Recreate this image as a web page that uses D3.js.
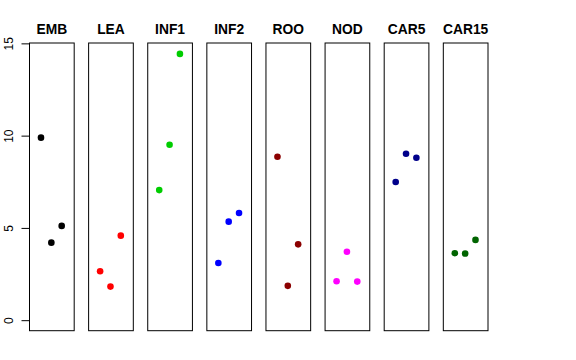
<!DOCTYPE html>
<html lang="en">
<head>
  <meta charset="UTF-8" />
  <title>Panels</title>
  <style>
    body { margin: 0; background: #fff; }
    svg { display: block; font-family: 'Liberation Sans', Arial, sans-serif; }
    .panel { fill: none; stroke: #000; stroke-width: 1px; }
    .title { font-weight: bold; font-size: 13.8px; text-anchor: middle; }
    .axis text { font-size: 12px; }
    .axis path { display: none; }
    .axis line { stroke: #000; }
  </style>
</head>
<body>
  <svg width="576" height="360"></svg>

  <script src="https://d3js.org/d3.v7.min.js"></script>
  <script>
    // --- data
    const groups = ["EMB", "LEA", "INF1", "INF2", "ROO", "NOD", "CAR5", "CAR15"];
    const colors = ["#000000", "#ff0000", "#00cd00", "#0000ff", "#8b0000", "#ff00ff", "#00008b", "#006400"];
    const EMB   = [9.89, 4.20, 5.11];
    const LEA   = [2.65, 1.82, 4.58];
    const INF1  = [7.05, 9.51, 14.43];
    const INF2  = [3.10, 5.34, 5.81];
    const ROO   = [8.86, 1.86, 4.11];
    const NOD   = [2.11, 3.71, 2.09];
    const CAR5  = [7.49, 9.02, 8.80];
    const CAR15 = [3.63, 3.61, 4.35];
    const values = [EMB, LEA, INF1, INF2, ROO, NOD, CAR5, CAR15];
    const yTicks = [0, 5, 10, 15];

    const svg = d3.select("svg");
    const plotTop = 43, plotBottom = 330.7;

    const panelX = d3.scaleBand().domain(groups).range([29, 487.5]).paddingInner(0.244).paddingOuter(0);
    const y = d3.scaleLinear().domain([-0.57, 15.02]).range([plotBottom, plotTop]);
    const x = d3.scaleLinear().domain([-0.16, 4.16]).range([0, panelX.bandwidth()]);

    // y axis, only left of the first panel
    const yAxisG = svg.append("g").attr("class", "axis")
      .attr("transform", `translate(${panelX(groups[0])},0)`)
      .call(d3.axisLeft(y).tickValues(yTicks).tickSize(7.5).tickPadding(0).tickFormat(d3.format("d")));
    yAxisG.selectAll("text")
      .attr("x", 0).attr("dy", null)
      .attr("transform", "translate(-16.5,0) rotate(-90)")
      .style("text-anchor", "middle");

    groups.forEach((name, i) => {
      const g = svg.append("g").attr("transform", `translate(${panelX(name)},0)`);
      g.append("rect").attr("class", "panel")
        .attr("x", 0.5).attr("y", plotTop)
        .attr("width", panelX.bandwidth()).attr("height", plotBottom - plotTop);
      g.append("text").attr("class", "title")
        .attr("x", panelX.bandwidth() / 2 + 0.5).attr("y", 34)
        .text(name);
      g.selectAll("circle").data(values[i])
        .join("circle")
          .attr("cx", (d, j) => x(j + 1))
          .attr("cy", d => y(d))
          .attr("r", 3.3)
          .attr("fill", colors[i]);
    });
  </script>
</body>
</html>
